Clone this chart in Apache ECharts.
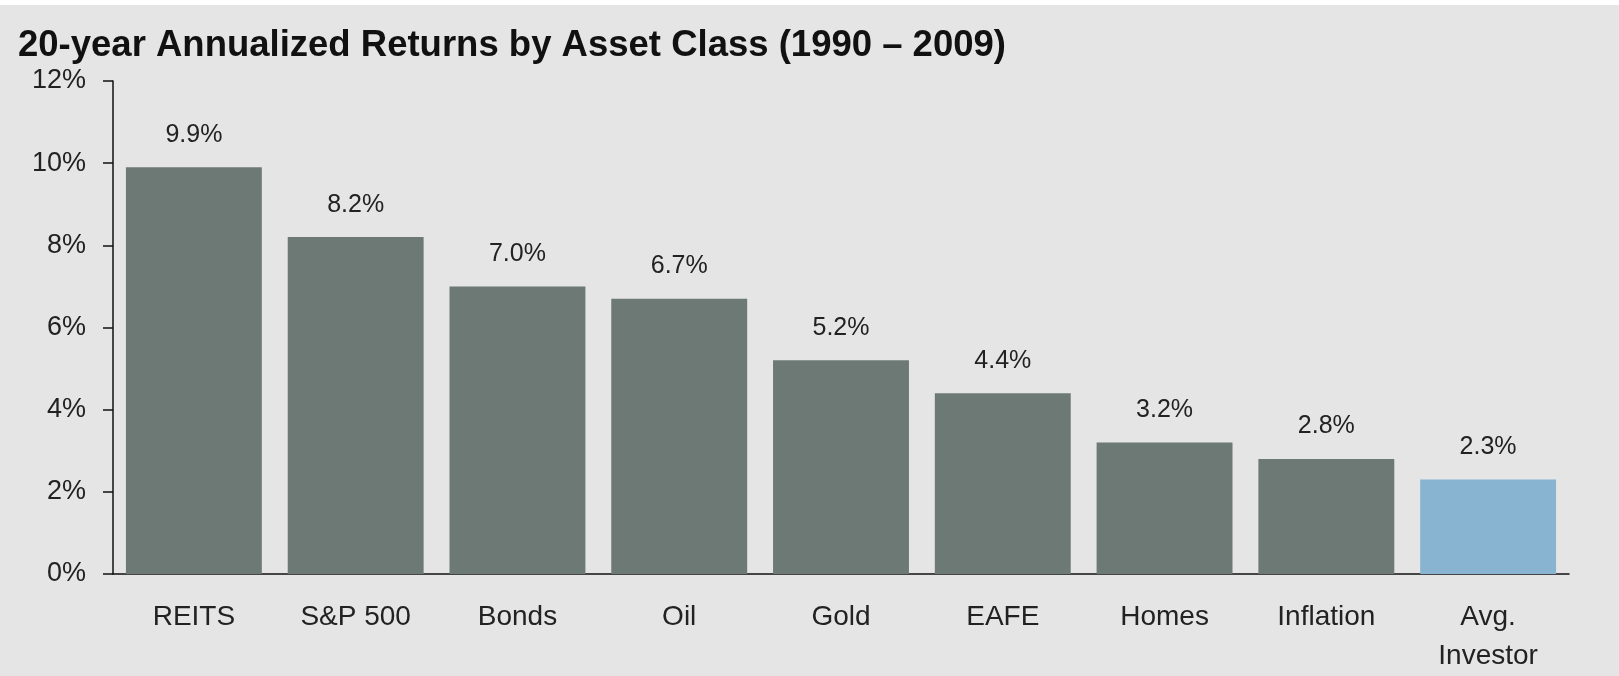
<!DOCTYPE html>
<html>
<head>
<meta charset="utf-8">
<script src="https://cdn.jsdelivr.net/npm/echarts@6/dist/echarts.min.js"></script>
<style>
  html, body { margin: 0; padding: 0; background: #fff; }
  #chart { position: absolute; left: 0; top: 5px; width: 1619px; height: 671px; }
</style>
</head>
<body>
<div id="chart"></div>
<script>
// asset classes and their 20-year annualized returns (%)
const categories = ['REITS', 'S&P 500', 'Bonds', 'Oil', 'Gold', 'EAFE', 'Homes', 'Inflation', 'Avg.\nInvestor']
const returns = [9.9, 8.2, 7.0, 6.7, 5.2, 4.4, 3.2, 2.8, 2.3]
const yTicks = [0, 2, 4, 6, 8, 10, 12]

const font = '"Liberation Sans", Arial, sans-serif'
const barGrey = '#6d7975'
const barBlue = '#89b4d1'

const chart = echarts.init(document.getElementById('chart'))
chart.setOption({
  backgroundColor: '#e4e5e4',
  animation: false,
  title: {
    text: '20-year Annualized Returns by Asset Class (1990 – 2009)',
    left: 13,
    top: 17,
    textStyle: {
      color: '#111',
      fontFamily: font,
      fontWeight: 'bold',
      fontSize: 36.5
    }
  },
  grid: {
    left: 113,
    right: 50,
    top: 76,
    bottom: 101
  },
  xAxis: {
    type: 'category',
    data: categories,
    axisLine: { lineStyle: { color: '#111', width: 1.5 } },
    axisTick: { show: false },
    axisLabel: {
      color: '#222',
      fontFamily: font,
      fontSize: 28,
      margin: 24,
      lineHeight: 39,
      interval: 0
    }
  },
  yAxis: {
    type: 'value',
    min: yTicks[0],
    max: yTicks[yTicks.length - 1],
    interval: 2,
    splitLine: { show: false },
    axisLine: { show: true, lineStyle: { color: '#111', width: 1.5 } },
    axisTick: { show: true, inside: false, length: 10, lineStyle: { color: '#111', width: 1.5 } },
    axisLabel: {
      color: '#222',
      fontFamily: font,
      fontSize: 27,
      margin: 27,
      formatter: v => v + '%'
    }
  },
  series: [{
    type: 'bar',
    barCategoryGap: '16%',
    data: returns.map((v, i) => ({
      value: v,
      itemStyle: { color: i === returns.length - 1 ? barBlue : barGrey }
    })),
    label: {
      show: true,
      position: 'top',
      distance: 20,
      color: '#222',
      fontFamily: font,
      fontSize: 25,
      formatter: p => p.value.toFixed(1) + '%'
    }
  }]
})
</script>
</body>
</html>
